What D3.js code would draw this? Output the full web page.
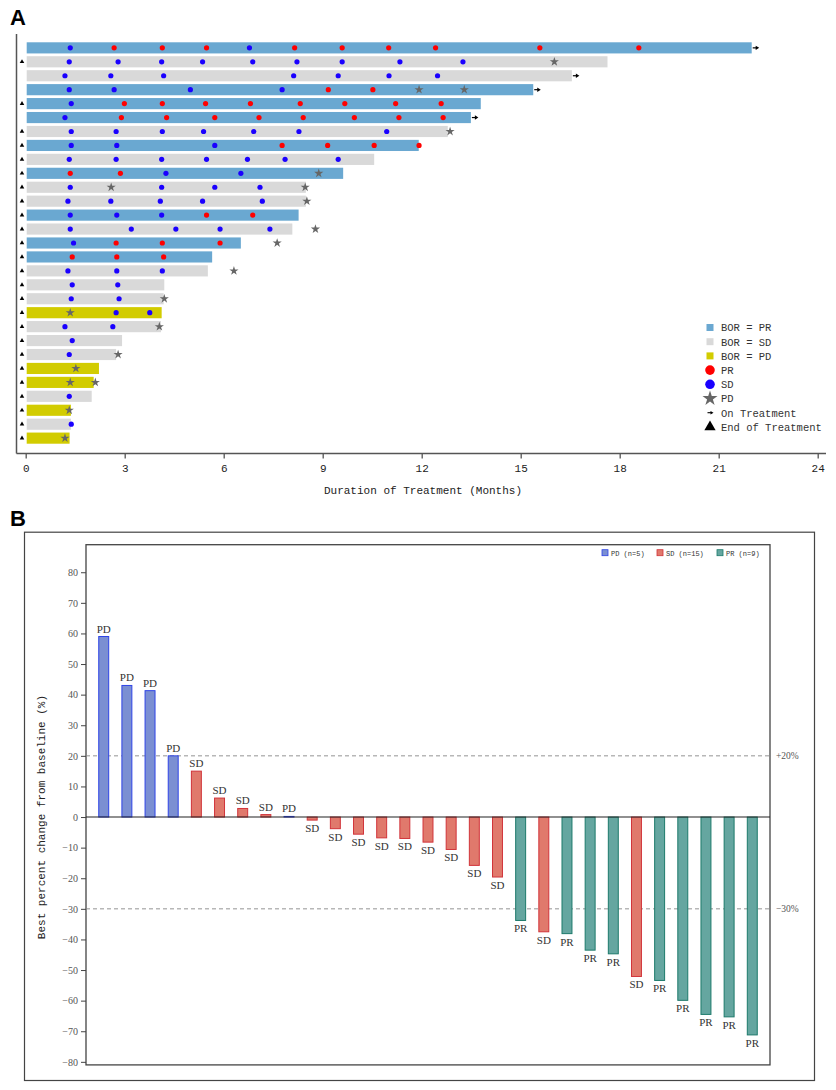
<!DOCTYPE html>
<html>
<head>
<meta charset="utf-8">
<script src="https://cdn.jsdelivr.net/npm/d3@7"></script>
<style>
  body { margin: 0; background: #fff; }
  svg { display: block; }
</style>
</head>
<body>
<div id="chart"></div>
<script>
// ---- panel A data (swimmer plot), one entry per patient, top to bottom ----
const bor = ['PR','SD','SD','PR','PR','PR','SD','PR','SD','PR','SD','SD','PR','SD','PR',
             'PR','SD','SD','SD','PD','SD','SD','SD','PD','PD','SD','PD','SD','PD'];
const duration = [22.0, 17.63, 16.55, 15.38, 13.79, 13.49, 12.79, 11.91, 10.56, 9.62, 8.49, 8.49, 8.27, 8.08, 6.52,
                  5.65, 5.52, 4.20, 4.18, 4.12, 4.10, 2.92, 2.74, 2.22, 2.06, 2.00, 1.37, 1.37, 1.33];
const ongoing = [true, false, true, true, false, true, false, false, false, false, false, false, false, false, false,
                 false, false, false, false, false, false, false, false, false, false, false, false, false, false];
const assessments = [
  [[1.35,'SD'],[2.68,'PR'],[4.14,'PR'],[5.48,'PR'],[6.78,'SD'],[8.15,'PR'],[9.59,'PR'],[11.0,'PR'],[12.42,'PR'],[15.58,'PR'],[18.58,'PR']],
  [[1.32,'SD'],[2.80,'SD'],[4.12,'SD'],[5.36,'SD'],[6.88,'SD'],[8.22,'SD'],[9.59,'SD'],[11.34,'SD'],[13.25,'SD'],[16.02,'PD']],
  [[1.19,'SD'],[2.58,'SD'],[4.18,'SD'],[8.12,'SD'],[9.47,'SD'],[11.01,'SD'],[12.48,'SD']],
  [[1.32,'SD'],[2.68,'SD'],[4.99,'SD'],[7.77,'SD'],[9.17,'PR'],[10.52,'PR'],[11.92,'PD'],[13.29,'PD']],
  [[1.38,'SD'],[2.99,'PR'],[4.14,'PR'],[5.45,'PR'],[6.81,'PR'],[8.32,'PR'],[9.67,'PR'],[11.21,'PR'],[12.59,'PR']],
  [[1.19,'SD'],[2.90,'PR'],[4.27,'PR'],[5.73,'PR'],[7.07,'PR'],[8.41,'PR'],[9.96,'PR'],[11.31,'PR'],[12.65,'PR']],
  [[1.38,'SD'],[2.74,'SD'],[4.14,'SD'],[5.39,'SD'],[6.91,'SD'],[8.28,'SD'],[10.94,'SD'],[12.86,'PD']],
  [[1.38,'SD'],[2.76,'SD'],[5.73,'SD'],[7.77,'PR'],[9.15,'PR'],[10.56,'PR'],[11.92,'PR']],
  [[1.32,'SD'],[2.74,'SD'],[4.12,'SD'],[5.48,'SD'],[6.72,'SD'],[7.86,'SD'],[9.47,'SD']],
  [[1.35,'PR'],[2.87,'PR'],[4.25,'SD'],[6.52,'SD'],[8.88,'PD']],
  [[1.35,'SD'],[2.59,'PD'],[4.12,'SD'],[5.73,'SD'],[7.10,'SD'],[8.47,'PD']],
  [[1.28,'SD'],[2.58,'SD'],[4.08,'SD'],[5.36,'SD'],[7.17,'SD'],[8.52,'PD']],
  [[1.35,'SD'],[2.76,'SD'],[4.12,'SD'],[5.48,'PR'],[6.88,'PR']],
  [[1.35,'SD'],[3.20,'SD'],[4.55,'SD'],[5.89,'SD'],[7.40,'SD'],[8.78,'PD']],
  [[1.45,'SD'],[2.74,'PR'],[4.14,'PR'],[5.89,'PR'],[7.62,'PD']],
  [[1.41,'PR'],[2.76,'PR'],[4.18,'PR']],
  [[1.28,'SD'],[2.76,'SD'],[4.14,'SD'],[6.31,'PD']],
  [[1.41,'SD'],[2.79,'SD']],
  [[1.38,'SD'],[2.83,'SD'],[4.20,'PD']],
  [[1.35,'PD'],[2.74,'SD'],[3.76,'SD']],
  [[1.19,'SD'],[2.64,'SD'],[4.05,'PD']],
  [[1.41,'SD']],
  [[1.32,'SD'],[2.80,'PD']],
  [[1.52,'PD']],
  [[1.35,'PD'],[2.11,'PD']],
  [[1.32,'SD']],
  [[1.32,'PD']],
  [[1.38,'SD']],
  [[1.19,'PD']]
];
const monthTicks = [0, 3, 6, 9, 12, 15, 18, 21, 24];

// ---- panel B data (waterfall) ----
const response = ['PD','PD','PD','PD','SD','SD','SD','SD','PD','SD','SD','SD','SD','SD','SD',
                  'SD','SD','SD','PR','SD','PR','PR','PR','SD','PR','PR','PR','PR','PR'];
const bestChange = [59, 43, 41.3, 20, 15, 6.2, 2.8, 0.8, 0.2, -1.0, -3.8, -5.6, -6.8, -7.0, -8.2,
                    -10.6, -15.8, -19.6, -33.8, -37.5, -38.1, -43.5, -44.7, -52.1, -53.4, -59.9, -64.5, -65.3, -71.2];
const legendB = ['PD (n=5)', 'SD (n=15)', 'PR (n=9)'];
const pctTicks = d3.range(-80, 81, 10);

const W = 836, H = 1090;
const mono = '"Liberation Mono", "DejaVu Sans Mono", monospace';
const serif = '"Liberation Serif", "DejaVu Serif", serif';

const svg = d3.select('#chart').append('svg')
    .attr('width', W)
    .attr('height', H);

// ================= Panel A =================
const borFill = { PR: '#6aa8d1', SD: '#d9d9d9', PD: '#d2cc00' };
const markColor = { PR: '#ff0000', SD: '#1a00ff', PD: '#666666' };

svg.append('text')
    .attr('x', 10).attr('y', 25)
    .attr('font-family', '"Liberation Sans", Arial, sans-serif')
    .attr('font-weight', 'bold')
    .attr('font-size', 22)
    .text('A');

const xA = d3.scaleLinear().domain([0, 24]).range([25.7, 817.7]);
const rowIdx = d3.range(bor.length);
const yA = d3.scaleBand().domain(rowIdx).range([39.5, 446.5]).padding(0.2);

const gA = svg.append('g');

// bars
gA.selectAll('rect.bar')
  .data(rowIdx)
  .join('rect')
    .attr('class', 'bar')
    .attr('x', xA(0) + 1)
    .attr('y', i => yA(i))
    .attr('width', i => xA(duration[i]) - xA(0) - 1)
    .attr('height', yA.bandwidth())
    .attr('fill', i => borFill[bor[i]]);

// assessment markers
const marks = [];
assessments.forEach((list, i) => list.forEach(([m, r]) => marks.push({ i, m, r })));

const star = d3.symbol().type(d3.symbolStar).size(26);
gA.selectAll('path.star')
  .data(marks.filter(d => d.r === 'PD'))
  .join('path')
    .attr('class', 'star')
    .attr('d', star)
    .attr('transform', d => `translate(${xA(d.m)},${yA(d.i) + yA.bandwidth() / 2})`)
    .attr('fill', markColor.PD);

gA.selectAll('circle.dot')
  .data(marks.filter(d => d.r !== 'PD'))
  .join('circle')
    .attr('class', 'dot')
    .attr('cx', d => xA(d.m))
    .attr('cy', d => yA(d.i) + yA.bandwidth() / 2)
    .attr('r', 2.6)
    .attr('fill', d => markColor[d.r]);

// end of treatment triangles
const tri = d3.symbol().type(d3.symbolTriangle).size(9);
gA.selectAll('path.eot')
  .data(rowIdx.filter(i => !ongoing[i]))
  .join('path')
    .attr('class', 'eot')
    .attr('d', tri)
    .attr('transform', i => `translate(22,${yA(i) + yA.bandwidth() / 2})`)
    .attr('fill', '#000');

// on treatment arrows
const onRows = gA.selectAll('g.arrow')
  .data(rowIdx.filter(i => ongoing[i]))
  .join('g')
    .attr('class', 'arrow')
    .attr('transform', i => `translate(${xA(duration[i]) + 1},${yA(i) + yA.bandwidth() / 2})`);
onRows.append('line')
    .attr('x1', 0).attr('x2', 4)
    .attr('stroke', '#000').attr('stroke-width', 1.2);
onRows.append('path')
    .attr('d', 'M3,-2.2L6.5,0L3,2.2Z')
    .attr('fill', '#000');

// axes
const axisA = gA.append('g')
    .attr('transform', 'translate(0,453.5)')
    .call(d3.axisBottom(xA).tickValues(monthTicks).tickSize(5).tickPadding(6));
axisA.select('.domain').remove();
axisA.selectAll('line').attr('stroke', '#555').attr('stroke-width', 1.3);
axisA.selectAll('text')
    .attr('font-family', mono)
    .attr('font-size', 11)
    .attr('fill', '#222');

gA.append('line')
    .attr('x1', 16.5).attr('x2', 826)
    .attr('y1', 453.5).attr('y2', 453.5)
    .attr('stroke', '#555').attr('stroke-width', 1.5);
gA.append('line')
    .attr('x1', 16.5).attr('x2', 16.5)
    .attr('y1', 34).attr('y2', 453.5)
    .attr('stroke', '#555').attr('stroke-width', 1.5);

gA.append('text')
    .attr('x', 423).attr('y', 494)
    .attr('text-anchor', 'middle')
    .attr('font-family', mono)
    .attr('font-size', 11)
    .attr('fill', '#222')
    .text('Duration of Treatment (Months)');

// legend A
const legendA = [
  { kind: 'rect', color: borFill.PR, label: 'BOR = PR' },
  { kind: 'rect', color: borFill.SD, label: 'BOR = SD' },
  { kind: 'rect', color: borFill.PD, label: 'BOR = PD' },
  { kind: 'circle', color: markColor.PR, label: 'PR' },
  { kind: 'circle', color: markColor.SD, label: 'SD' },
  { kind: 'star', color: markColor.PD, label: 'PD' },
  { kind: 'arrow', color: '#000', label: 'On Treatment' },
  { kind: 'tri', color: '#000', label: 'End of Treatment' }
];
const legA = gA.selectAll('g.legA')
  .data(legendA)
  .join('g')
    .attr('class', 'legA')
    .attr('transform', (d, i) => `translate(710,${327.5 + i * 14.2})`);
legA.each(function(d) {
  const g = d3.select(this);
  if (d.kind === 'rect') {
    g.append('rect').attr('x', -3.5).attr('y', -3.5).attr('width', 7).attr('height', 7).attr('fill', d.color);
  } else if (d.kind === 'circle') {
    g.append('circle').attr('r', 4.8).attr('fill', d.color);
  } else if (d.kind === 'star') {
    g.append('path').attr('d', d3.symbol().type(d3.symbolStar).size(70)).attr('fill', d.color);
  } else if (d.kind === 'arrow') {
    g.append('line').attr('x1', -2.5).attr('x2', 1).attr('stroke', '#000').attr('stroke-width', 1.1);
    g.append('path').attr('d', 'M0.5,-1.8L3.5,0L0.5,1.8Z').attr('fill', '#000');
  } else {
    g.append('path').attr('d', d3.symbol().type(d3.symbolTriangle).size(55)).attr('fill', '#000');
  }
});
legA.append('text')
    .attr('x', 11).attr('y', 3.8)
    .attr('font-family', mono)
    .attr('font-size', 10.5)
    .attr('fill', '#333')
    .text(d => d.label);

// ================= Panel B =================
const respFill = { PD: '#7b8fd2', SD: '#e0796c', PR: '#65a6a0' };
const respStroke = { PD: '#2f44e6', SD: '#d1343a', PR: '#1d7a6b' };

const yTop = 89, yBottom = -81;
const yB = d3.scaleLinear().domain([yBottom, yTop]).range([1064.9, 544.7]);
const plotL = 86, plotR = 770;
const plotT = yB(yTop), plotB = yB(yBottom);

svg.append('text')
    .attr('x', 10).attr('y', plotT - 19)
    .attr('font-family', '"Liberation Sans", Arial, sans-serif')
    .attr('font-weight', 'bold')
    .attr('font-size', 22)
    .text('B');

svg.append('rect')
    .attr('x', 24.5).attr('y', plotT - 12.5)
    .attr('width', 790).attr('height', 1080.5 - (plotT - 12.5))
    .attr('fill', 'none')
    .attr('stroke', '#444').attr('stroke-width', 1.2);

const barIdx = d3.range(bestChange.length);
const xB = d3.scaleBand().domain(barIdx).range([plotL, plotR]).paddingInner(0.57).paddingOuter(0.55);

const gB = svg.append('g');

gB.append('rect')
    .attr('x', plotL).attr('y', plotT)
    .attr('width', plotR - plotL).attr('height', plotB - plotT)
    .attr('fill', 'none')
    .attr('stroke', '#444').attr('stroke-width', 1.3);

const axisB = gB.append('g')
    .attr('transform', `translate(${plotL},0)`)
    .call(d3.axisLeft(yB).tickValues(pctTicks).tickSize(5).tickPadding(3));
axisB.select('.domain').remove();
axisB.selectAll('line').attr('stroke', '#444');
axisB.selectAll('text')
    .attr('font-family', serif)
    .attr('font-size', 10)
    .attr('fill', '#555');

gB.append('text')
    .attr('transform', `translate(45,${yB(0)}) rotate(-90)`)
    .attr('text-anchor', 'middle')
    .attr('font-family', mono)
    .attr('font-size', 11)
    .attr('fill', '#222')
    .text('Best percent change from baseline (%)');

// thresholds
const thresholds = [[20, '+20%'], [-30, '\u221230%']];
gB.selectAll('line.thr')
  .data(thresholds)
  .join('line')
    .attr('class', 'thr')
    .attr('x1', plotL).attr('x2', plotR)
    .attr('y1', d => yB(d[0])).attr('y2', d => yB(d[0]))
    .attr('stroke', '#888').attr('stroke-width', 0.9)
    .attr('stroke-dasharray', '4,3');
gB.selectAll('text.thr')
  .data(thresholds)
  .join('text')
    .attr('class', 'thr')
    .attr('x', plotR + 6).attr('y', d => yB(d[0]) + 3.5)
    .attr('font-family', serif)
    .attr('font-size', 9.5)
    .attr('fill', '#555')
    .text(d => d[1]);

// bars
gB.selectAll('rect.wf')
  .data(barIdx)
  .join('rect')
    .attr('class', 'wf')
    .attr('x', i => xB(i))
    .attr('y', i => yB(Math.max(0, bestChange[i])))
    .attr('width', xB.bandwidth())
    .attr('height', i => Math.abs(yB(bestChange[i]) - yB(0)))
    .attr('fill', i => respFill[response[i]])
    .attr('stroke', i => respStroke[response[i]])
    .attr('stroke-width', 1);

gB.append('line')
    .attr('x1', plotL).attr('x2', plotR)
    .attr('y1', yB(0)).attr('y2', yB(0))
    .attr('stroke', '#222').attr('stroke-width', 1.1);

gB.selectAll('text.lab')
  .data(barIdx)
  .join('text')
    .attr('class', 'lab')
    .attr('x', i => xB(i) + xB.bandwidth() / 2)
    .attr('y', i => bestChange[i] >= 0 ? yB(bestChange[i]) - 4 : yB(bestChange[i]) + 12)
    .attr('text-anchor', 'middle')
    .attr('font-family', serif)
    .attr('font-size', 11)
    .attr('fill', '#333')
    .text(i => response[i]);

// legend B
const legKeys = ['PD', 'SD', 'PR'];
const legX = [602, 657, 717];
const legB = gB.selectAll('g.legB')
  .data(legKeys)
  .join('g')
    .attr('class', 'legB')
    .attr('transform', (d, i) => `translate(${legX[i]},${plotT + 10})`);
legB.append('rect')
    .attr('x', 0).attr('y', -5).attr('width', 6).attr('height', 6)
    .attr('fill', d => respFill[d])
    .attr('stroke', d => respStroke[d])
    .attr('stroke-width', 0.8);
legB.append('text')
    .attr('x', 9).attr('y', 1)
    .attr('font-family', mono)
    .attr('font-size', 7)
    .attr('fill', '#333')
    .text((d, i) => legendB[i]);
</script>
</body>
</html>
